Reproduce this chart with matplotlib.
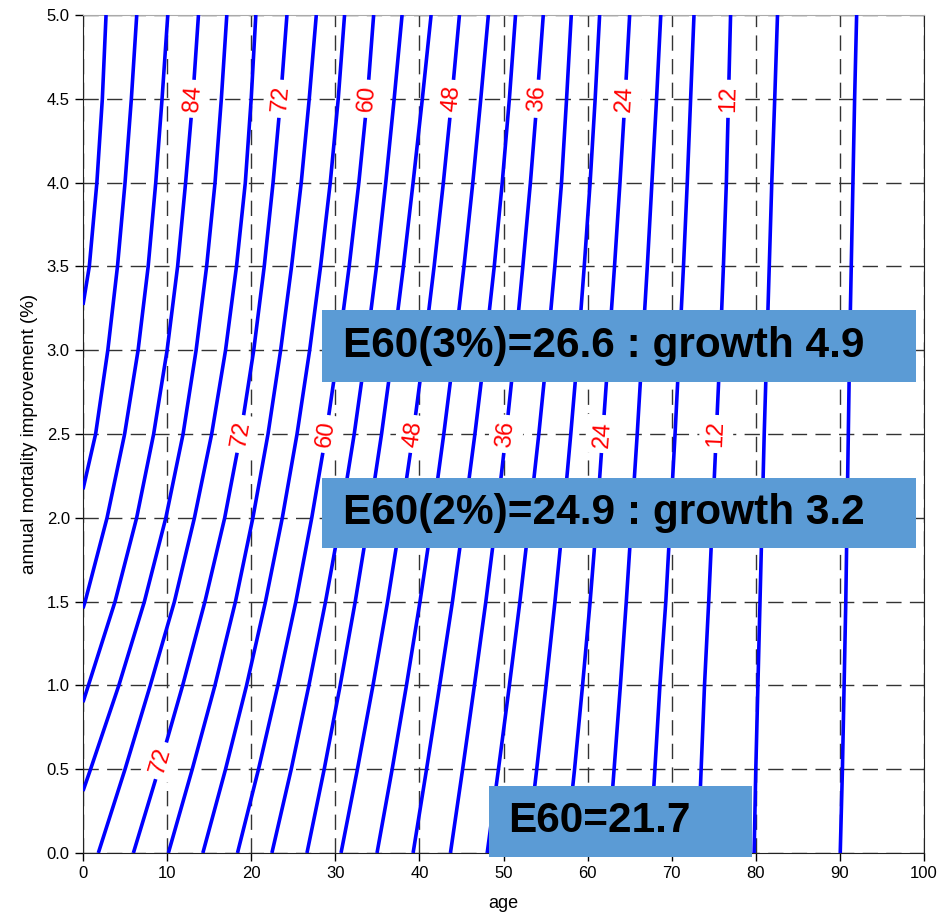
import numpy as np
import matplotlib
matplotlib.use("Agg")
import matplotlib.pyplot as plt
from matplotlib.patches import Rectangle

plt.rcParams['font.family'] = ['Liberation Sans', 'DejaVu Sans']

# contour levels (remaining life expectancy, years)
levels = [4, 8, 12, 16, 20, 24, 28, 32, 36, 40, 44, 48,
          52, 56, 60, 64, 68, 72, 76, 80, 84, 88, 92, 96]

# rows of annual mortality improvement (%) where ages were read
y_rows = [0.0, 0.5, 1.0, 1.5, 2.0, 2.5, 3.0, 3.5, 4.0, 4.5, 5.0]

# age of each contour at each row (None = left of the chart)
age_4  = [90.04, 90.3, 90.5, 90.7, 90.85, 91.0, 91.15, 91.35, 91.55, 91.75, 91.99]
age_8  = [79.8, 80.0, 80.25, 80.5, 80.75, 81.0, 81.3, 81.6, 81.9, 82.25, 82.58]
age_12 = [73.1, 73.5, 73.9, 74.4, 74.85, 75.3, 75.75, 76.15, 76.5, 76.75, 77.0]
age_16 = [67.4, 68.0, 68.6, 69.3, 69.85, 70.4, 70.9, 71.4, 71.85, 72.25, 72.65]
age_20 = [62.4, 63.15, 63.9, 64.6, 65.25, 65.9, 66.5, 67.1, 67.65, 68.2, 68.7]
age_24 = [57.4, 58.45, 59.4, 60.3, 61.1, 61.8, 62.5, 63.2, 63.85, 64.45, 65.0]
age_28 = [52.8, 53.95, 55.05, 56.12, 57.1, 58.0, 58.85, 59.6, 60.3, 60.9, 61.43]
age_32 = [48.06, 49.4, 50.7, 51.95, 53.1, 54.2, 55.2, 56.1, 56.9, 57.5, 58.06]
age_36 = [43.69, 45.14, 46.54, 47.9, 49.15, 50.3, 51.35, 52.3, 53.2, 54.0, 54.73]
age_40 = [39.25, 40.85, 42.41, 43.93, 45.3, 46.6, 47.8, 48.9, 49.85, 50.7, 51.43]
age_44 = [34.96, 36.76, 38.46, 40.07, 41.55, 42.9, 44.15, 45.3, 46.35, 47.3, 48.2]
age_48 = [30.68, 32.63, 34.48, 36.22, 37.8, 39.25, 40.55, 41.75, 42.85, 43.85, 44.76]
age_52 = [26.63, 28.68, 30.58, 32.37, 34.0, 35.5, 36.85, 38.1, 39.25, 40.35, 41.39]
age_56 = [22.46, 24.76, 26.86, 28.84, 30.65, 32.25, 33.65, 34.9, 36.0, 37.0, 37.94]
age_60 = [18.37, 20.87, 23.17, 25.31, 27.2, 28.9, 30.35, 31.65, 32.8, 33.8, 34.56]
age_64 = [14.25, 16.95, 19.45, 21.7, 23.7, 25.45, 26.95, 28.25, 29.4, 30.35, 31.1]
age_68 = [10.15, 12.99, 15.69, 18.13, 20.2, 22.0, 23.5, 24.8, 25.95, 26.9, 27.74]
age_72 = [5.99, 9.0, 11.85, 14.5, 16.85, 18.75, 20.3, 21.55, 22.6, 23.5, 24.25]
age_76 = [1.82, 5.0, 8.0, 10.87, 13.25, 15.3, 16.95, 18.25, 19.3, 20.0, 20.55]
age_80 = [None, 0.9, 4.26, 7.3, 9.85, 11.9, 13.45, 14.7, 15.7, 16.45, 17.1]
age_84 = [None, None, 0.64, 3.81, 6.38, 8.4, 10.0, 11.25, 12.2, 13.05, 13.73]
age_88 = [None, None, None, 0.25, 2.86, 4.95, 6.55, 7.75, 8.65, 9.4, 10.08]
age_92 = [None, None, None, None, None, 1.5, 2.95, 4.1, 5.0, 5.75, 6.39]
age_96 = [None, None, None, None, None, None, None, 0.75, 1.65, 2.3, 2.74]

# improvement (%) where a contour enters through the left edge (age 0)
left_entry = {80: 0.37, 84: 0.9, 88: 1.46, 92: 2.17, 96: 3.27}

ages = [age_4, age_8, age_12, age_16, age_20, age_24, age_28, age_32,
        age_36, age_40, age_44, age_48, age_52, age_56, age_60, age_64,
        age_68, age_72, age_76, age_80, age_84, age_88, age_92, age_96]

# contour labels: (level, improvement %)
labels = [(84, 4.5), (72, 4.5), (60, 4.5), (48, 4.5), (36, 4.5), (24, 4.5), (12, 4.5),
          (72, 2.5), (60, 2.5), (48, 2.5), (36, 2.5), (24, 2.5), (12, 2.5),
          (72, 0.55)]

# annotation boxes: text, (x0, x1, y0, y1) in data units, text x
boxes = [("E60(3%)=26.6 : growth 4.9", (28.4, 99.05, 2.81, 3.24), 30.9),
         ("E60(2%)=24.9 : growth 3.2", (28.4, 99.05, 1.82, 2.24), 30.9),
         ("E60=21.7", (48.3, 79.5, -0.024, 0.40), 50.6)]

fig = plt.figure(figsize=(9.41, 9.21), dpi=100)
ax = fig.add_axes([83/941, 68/921, 841/941, 838/921])
ax.set_xlim(0, 100)
ax.set_ylim(0, 5)

lines = {}
for lev, xs in zip(levels, ages):
    px, py = [], []
    if lev in left_entry:
        px.append(0.0)
        py.append(left_entry[lev])
    for yy, xx in zip(y_rows, xs):
        if xx is not None:
            px.append(xx)
            py.append(yy)
    lines[lev] = (np.array(px), np.array(py))
    ax.plot(px, py, color='#0000FF', lw=2.6, zorder=3, solid_capstyle='butt',
            solid_joinstyle='round')

# contour labels
for lev, yy in labels:
    px, py = lines[lev]
    xx = np.interp(yy, py, px)
    p0 = ax.transData.transform((np.interp(yy - 0.15, py, px), yy - 0.15))
    p1 = ax.transData.transform((np.interp(yy + 0.15, py, px), yy + 0.15))
    ang = np.degrees(np.arctan2(p1[1] - p0[1], p1[0] - p0[0]))
    ax.text(xx, yy, str(lev), color='#FF0000', fontsize=17, rotation=ang,
            rotation_mode='anchor', ha='center', va='center', zorder=4,
            bbox=dict(boxstyle='square,pad=0.25', fc='white', ec='none'))

ax.set_xticks(np.arange(0, 101, 10))
ax.set_yticks(np.arange(0, 5.01, 0.5))
ax.set_yticklabels([f"{v:.1f}" for v in np.arange(0, 5.01, 0.5)])
ax.grid(True, color='#333333', linestyle=(0, (11, 6)), linewidth=1.0, zorder=1)
ax.set_axisbelow(True)
ax.tick_params(axis='both', direction='out', length=6, width=1, labelsize=12,
               colors='black')
for s in ['left', 'bottom', 'right']:
    ax.spines[s].set_color('#222222')
ax.spines['top'].set_color('#aaaaaa')
ax.set_xlabel('age', fontsize=13, labelpad=10)
ax.set_ylabel('annual mortality improvement (%)', fontsize=13.5, labelpad=6)

for txt, (x0, x1, y0, y1), tx in boxes:
    ax.add_patch(Rectangle((x0, y0), x1 - x0, y1 - y0, facecolor='#5B9BD5',
                           edgecolor='none', zorder=6, clip_on=False))
    ax.text(tx, (y0 + y1) / 2, txt, fontsize=30.5, fontweight='bold',
            color='black', ha='left', va='center', zorder=7, clip_on=False)

fig.savefig('out.png', dpi=100)
